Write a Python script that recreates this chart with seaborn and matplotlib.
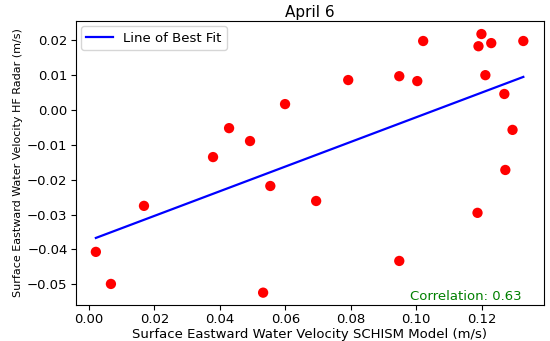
import numpy as np
import pandas as pd
import seaborn as sns
import matplotlib
matplotlib.use("Agg")
import matplotlib.pyplot as plt

# values
schism_u = [0.0021, 0.0067, 0.0168, 0.0379, 0.0428, 0.0492, 0.0554, 0.0532,
            0.0599, 0.0694, 0.0792, 0.0948, 0.0948, 0.1003, 0.1021, 0.1187,
            0.1190, 0.1199, 0.1211, 0.1229, 0.1269, 0.1272, 0.1294, 0.1327]
radar_u = [-0.0407, -0.0499, -0.0275, -0.0135, -0.0052, -0.0089, -0.0218, -0.0524,
           0.0017, -0.0261, 0.0086, 0.0097, -0.0433, 0.0083, 0.0198, -0.0295,
           0.0183, 0.0218, 0.0100, 0.0192, 0.0046, -0.0172, -0.0057, 0.0198]
# best fit line end points as drawn
fit_x = [0.0021, 0.1327]
fit_y = [-0.0367, 0.0095]
corr_label = "Correlation: 0.63"

df = pd.DataFrame({"model": schism_u, "radar": radar_u})
fit = pd.DataFrame({"x": fit_x, "y": fit_y})

plt.rcParams['font.size'] = 9.5
fig, ax = plt.subplots(figsize=(5.5, 3.41), dpi=100)
fig.subplots_adjust(left=0.138, right=0.989, top=0.938, bottom=0.106)

sns.scatterplot(data=df, x="model", y="radar", color="red", s=55, edgecolor="none", ax=ax)
sns.lineplot(data=fit, x="x", y="y", color="blue", linewidth=1.6, label="Line of Best Fit", ax=ax)

ax.set_xlim(-0.004, 0.139)
ax.set_ylim(-0.0559, 0.0255)
ax.set_xticks([0.0, 0.02, 0.04, 0.06, 0.08, 0.10, 0.12])
ax.set_yticks([-0.05, -0.04, -0.03, -0.02, -0.01, 0.0, 0.01, 0.02])
ax.tick_params(labelsize=9.5, pad=2.5)
ax.set_xlabel("Surface Eastward Water Velocity SCHISM Model (m/s)", labelpad=1)
ax.set_ylabel("Surface Eastward Water Velocity HF Radar (m/s)", fontsize=8, labelpad=3)
ax.set_title("April 6", fontsize=11, pad=3)
ax.legend(loc="upper left", borderaxespad=0.4)
ax.text(0.953, 0.005, corr_label, color="green", ha="right", va="bottom", transform=ax.transAxes)

fig.savefig("out.png", dpi=100)
